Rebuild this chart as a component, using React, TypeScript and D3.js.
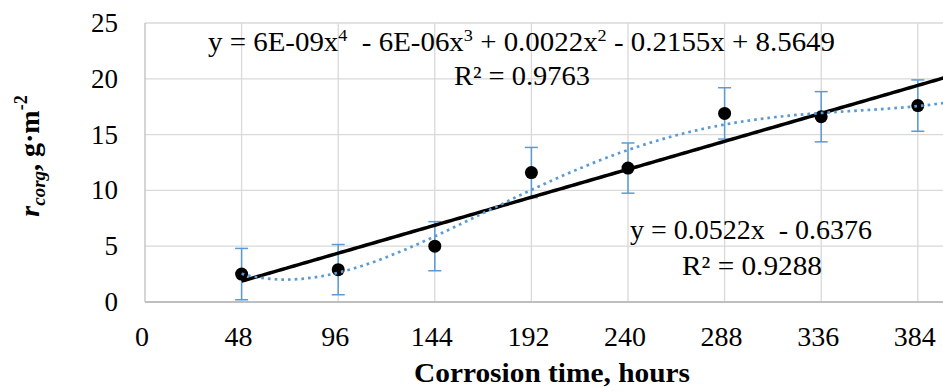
import React, { useEffect, useRef } from 'react';
import * as d3 from 'd3';

// corrosion rate vs time, linear + 4th order trendlines (Excel style)
const hours = [48, 96, 144, 192, 240, 288, 336, 384];
const rate = [2.5, 2.9, 5.0, 11.6, 12.0, 16.9, 16.6, 17.6];
const rateErr = [2.3, 2.25, 2.2, 2.25, 2.25, 2.3, 2.25, 2.3];
const xTicks = [0, 48, 96, 144, 192, 240, 288, 336, 384];
const yTicks = [0, 5, 10, 15, 20, 25];
const linCoef = [0.0522, -0.6376];
const polyLabel = ['y = 6E-09x', '4', '  - 6E-06x', '3', ' + 0.0022x', '2', ' - 0.2155x + 8.5649'];
const polyR2 = 'R² = 0.9763';
const linLabel = 'y = 0.0522x  - 0.6376';
const linR2 = 'R² = 0.9288';

const W = 943;
const H = 392;
const FONT = '"Liberation Serif", "Times New Roman", serif';

// least squares polynomial, x scaled by 100 to keep the matrix sane
function polyFit(xs: number[], ys: number[], deg: number) {
  const n = deg + 1;
  const A = Array.from({ length: n }, () => new Array(n + 1).fill(0));
  xs.forEach((x, k) => {
    const t = x / 100;
    for (let i = 0; i < n; i++) {
      for (let j = 0; j < n; j++) A[i][j] += Math.pow(t, i + j);
      A[i][n] += ys[k] * Math.pow(t, i);
    }
  });
  for (let c = 0; c < n; c++) {
    let p = c;
    for (let r = c + 1; r < n; r++) if (Math.abs(A[r][c]) > Math.abs(A[p][c])) p = r;
    [A[c], A[p]] = [A[p], A[c]];
    for (let r = 0; r < n; r++) {
      if (r === c) continue;
      const f = A[r][c] / A[c][c];
      for (let k = c; k <= n; k++) A[r][k] -= f * A[c][k];
    }
  }
  const coef = A.map((row, i) => row[n] / row[i]);
  return (x: number) => coef.reduce((s, a, i) => s + a * Math.pow(x / 100, i), 0);
}

export default function App() {
  const ref = useRef<SVGSVGElement>(null);

  useEffect(() => {
    const svg = d3.select(ref.current);
    svg.selectAll('*').remove();

    const x = d3.scaleLinear().domain([0, 400]).range([145, 950]);
    const y = d3.scaleLinear().domain([0, 25]).range([302, 23]);

    const g = svg.append('g');

    // grid
    g.selectAll('.hgrid')
      .data(yTicks.filter(d => d > 0))
      .enter()
      .append('line')
      .attr('x1', x(0)).attr('x2', W)
      .attr('y1', d => y(d)).attr('y2', d => y(d))
      .attr('stroke', '#d9d9d9').attr('stroke-width', 1.3);
    g.selectAll('.vgrid')
      .data(xTicks.filter(d => d > 0))
      .enter()
      .append('line')
      .attr('x1', d => x(d)).attr('x2', d => x(d))
      .attr('y1', y(25)).attr('y2', y(0))
      .attr('stroke', '#d9d9d9').attr('stroke-width', 1.3);
    g.append('line')
      .attr('x1', x(0)).attr('x2', x(0))
      .attr('y1', y(25)).attr('y2', y(0))
      .attr('stroke', '#bfbfbf').attr('stroke-width', 1.3);
    g.append('line')
      .attr('x1', x(0)).attr('x2', W)
      .attr('y1', y(0)).attr('y2', y(0))
      .attr('stroke', '#bfbfbf').attr('stroke-width', 2);

    // tick labels
    g.selectAll('.yt')
      .data(yTicks)
      .enter()
      .append('text')
      .attr('x', 118).attr('y', d => y(d) + 9)
      .attr('text-anchor', 'end')
      .style('font-family', FONT).style('font-size', '27px')
      .text(d => d);
    g.selectAll('.xt')
      .data(xTicks)
      .enter()
      .append('text')
      .attr('x', d => x(d) - 3).attr('y', 346)
      .attr('text-anchor', 'middle')
      .style('font-family', FONT).style('font-size', '28px')
      .text(d => d);

    // axis titles
    g.append('text')
      .attr('x', 552).attr('y', 382)
      .attr('text-anchor', 'middle')
      .attr('textLength', 276).attr('lengthAdjust', 'spacingAndGlyphs')
      .style('font-family', FONT).style('font-size', '27px').style('font-weight', 'bold')
      .text('Corrosion time, hours');

    const yt = g.append('text')
      .attr('transform', 'translate(39,156) rotate(-90)')
      .attr('text-anchor', 'middle')
      .style('font-family', FONT).style('font-size', '28px').style('font-weight', 'bold');
    yt.append('tspan').style('font-style', 'italic').text('r');
    yt.append('tspan').style('font-style', 'italic').style('font-size', '19px').attr('dy', 6).text('corg');
    yt.append('tspan').attr('dy', -6).text(', g·m');
    yt.append('tspan').style('font-size', '18px').attr('dy', -12).text('-2');

    // error bars
    const eb = g.selectAll('.eb').data(hours).enter().append('g')
      .attr('stroke', '#5b9bd5').attr('stroke-width', 1.5);
    eb.append('line')
      .attr('x1', d => x(d)).attr('x2', d => x(d))
      .attr('y1', (d, i) => y(rate[i] - rateErr[i])).attr('y2', (d, i) => y(rate[i] + rateErr[i]));
    eb.append('line')
      .attr('x1', d => x(d) - 6.5).attr('x2', d => x(d) + 6.5)
      .attr('y1', (d, i) => y(rate[i] + rateErr[i])).attr('y2', (d, i) => y(rate[i] + rateErr[i]));
    eb.append('line')
      .attr('x1', d => x(d) - 6.5).attr('x2', d => x(d) + 6.5)
      .attr('y1', (d, i) => y(rate[i] - rateErr[i])).attr('y2', (d, i) => y(rate[i] - rateErr[i]));

    // markers
    g.selectAll('.pt')
      .data(hours)
      .enter()
      .append('circle')
      .attr('cx', d => x(d)).attr('cy', (d, i) => y(rate[i]))
      .attr('r', 6.5)
      .attr('fill', '#000');

    // linear trendline
    const xs = d3.range(48, 401, 2);
    const line = d3.line<number>().x(d => x(d));
    g.append('path')
      .attr('d', line.y(d => y(linCoef[0] * d + linCoef[1]))(xs))
      .attr('fill', 'none').attr('stroke', '#000').attr('stroke-width', 3.5);

    // polynomial trendline, order 4
    const poly = polyFit(hours, rate, 4);
    g.append('path')
      .attr('d', line.y(d => y(poly(d)))(xs))
      .attr('fill', 'none').attr('stroke', '#5b9bd5').attr('stroke-width', 2.7)
      .attr('stroke-dasharray', '2.7 4');

    // trendline labels
    const pe = g.append('text')
      .attr('x', 208).attr('y', 51)
      .attr('xml:space', 'preserve')
      .attr('textLength', 627).attr('lengthAdjust', 'spacingAndGlyphs')
      .style('white-space', 'pre')
      .style('font-family', FONT).style('font-size', '27px');
    polyLabel.forEach((s, i) => {
      if (i % 2 === 1) pe.append('tspan').style('font-size', '17px').attr('dy', -10).text(s);
      else pe.append('tspan').attr('dy', i === 0 ? 0 : 10).text(s);
    });
    g.append('text')
      .attr('x', 454).attr('y', 85)
      .attr('textLength', 136).attr('lengthAdjust', 'spacingAndGlyphs')
      .style('font-family', FONT).style('font-size', '27px')
      .text(polyR2);
    g.append('text')
      .attr('x', 630).attr('y', 239)
      .attr('xml:space', 'preserve')
      .attr('textLength', 242).attr('lengthAdjust', 'spacingAndGlyphs')
      .style('white-space', 'pre')
      .style('font-family', FONT).style('font-size', '27px')
      .text(linLabel);
    g.append('text')
      .attr('x', 682).attr('y', 275)
      .attr('textLength', 140).attr('lengthAdjust', 'spacingAndGlyphs')
      .style('font-family', FONT).style('font-size', '27px')
      .text(linR2);
  }, []);

  return (
    <svg ref={ref} width={W} height={H} style={{ position: 'absolute', left: 0, top: 0, background: '#fff' }} />
  );
}
